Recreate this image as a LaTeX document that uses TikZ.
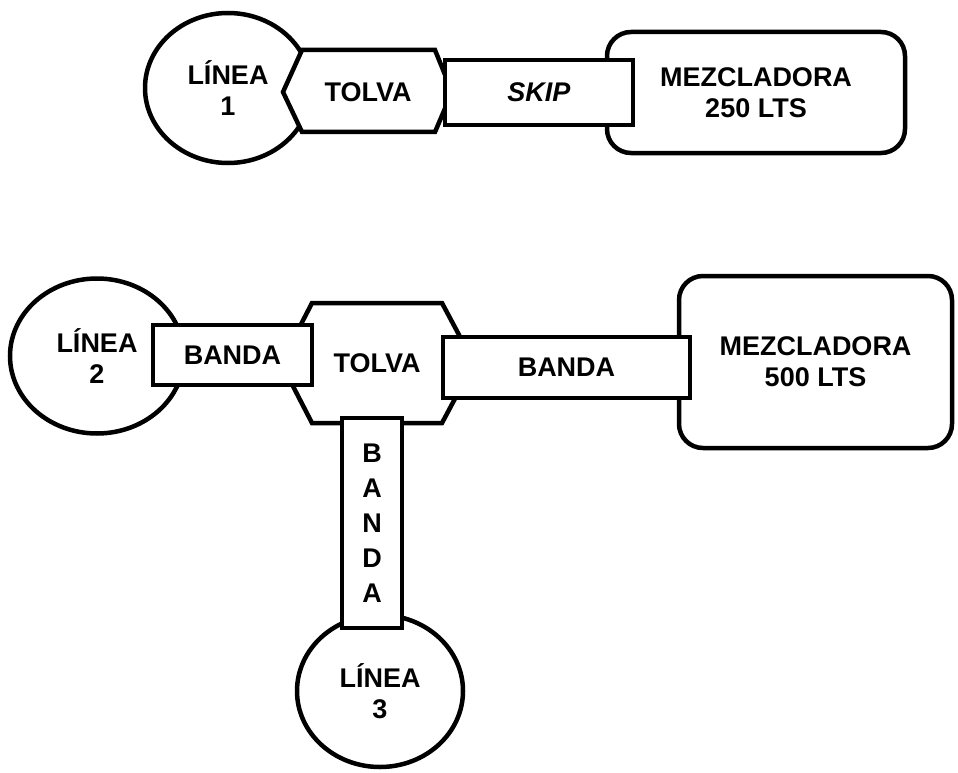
\documentclass[tikz,border=0pt]{standalone}
\usepackage{fontspec}
\setmainfont{Liberation Sans}
\usetikzlibrary{shapes.geometric}

\begin{document}
\begin{tikzpicture}[
      x=1pt, y=-1pt,
      every node/.style={font=\fontsize{27}{31}\selectfont\bfseries},
      linea/.style={ellipse, draw=black, fill=white, line width=4.5pt,
                    align=center, inner sep=0pt},
      banda/.style={rectangle, draw=black, fill=white, line width=4.5pt,
                    align=center, inner sep=0pt},
      mezcla/.style={rectangle, rounded corners=24pt, draw=black, fill=white,
                    line width=4.5pt, align=center, inner sep=0pt},
      tolvabox/.style={draw=black, fill=white, line width=4.5pt},
    ]
    \useasboundingbox (0,0) rectangle (958,773);

    % linea 1
    \node[linea, minimum width=166pt, minimum height=150pt] (linea1) at (228,88)
      {LÍNEA\\1};

    \draw[tolvabox] (283,92) -- (302,50) -- (435,50) -- (452,92)
      -- (435,132) -- (302,132) -- cycle;
    \node (tolva1) at (368,92) {TOLVA};

    \node[mezcla, minimum width=298pt, minimum height=121pt] (mezcla250)
      at (756,92.5) {MEZCLADORA\\250 LTS};

    \node[banda, minimum width=188pt, minimum height=65pt] (skip)
      at (539,92.5) {\textit{SKIP}};

    % lineas 2 y 3
    \node[linea, minimum width=174pt, minimum height=155pt] (linea2) at (97,356)
      {LÍNEA\\2};

    \node[linea, minimum width=166pt, minimum height=152pt] (linea3) at (380,691)
      {LÍNEA\\3};

    \draw[tolvabox] (281,363) -- (312,303) -- (442,303) -- (474,363)
      -- (442,423) -- (312,423) -- cycle;
    \node (tolva2) at (377,363) {TOLVA};

    \node[mezcla, minimum width=273pt, minimum height=172pt] (mezcla500)
      at (815.5,362) {MEZCLADORA\\500 LTS};

    \node[banda, minimum width=159pt, minimum height=60pt] (banda2)
      at (232.5,355) {BANDA};

    \node[banda, minimum width=247pt, minimum height=61pt] (bandaM)
      at (566.5,367.5) {BANDA};

    \node[banda, minimum width=60pt, minimum height=210pt,
          font=\fontsize{27}{35}\selectfont\bfseries] (banda3)
      at (372,523) {B\\A\\N\\D\\A};

  \end{tikzpicture}
\end{document}
